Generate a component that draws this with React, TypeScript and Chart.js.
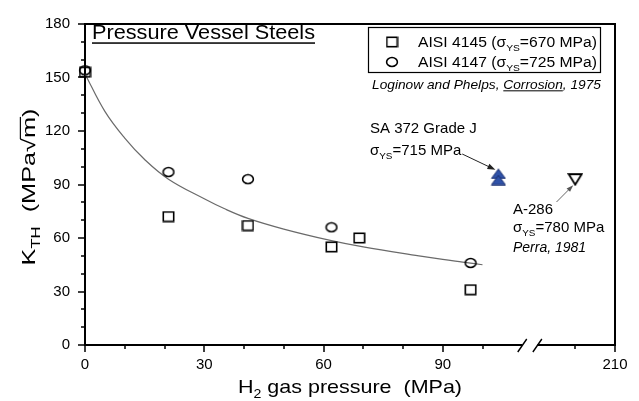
import React, { useEffect, useRef } from 'react';
import { Chart, registerables } from 'chart.js';

Chart.register(...registerables);

// ---------------- data ----------------
const aisi4145X = [0, 21, 41, 62, 69, 97];
const aisi4145Y = [153, 72, 67, 55, 60, 31];
const aisi4147X = [0, 21, 41, 62, 97];
const aisi4147Y = [154, 97, 93, 66, 46];
const sa372X = [104, 104];
const sa372Y = [96, 92.5];
const a286X = [200];
const a286Y = [93];
const fitX = [0, 5, 10, 15, 21, 30, 35, 41, 50, 62, 70, 84, 90, 95, 100];
const fitY = [152, 131, 116, 104, 93, 82, 76.5, 71, 65, 58.5, 55, 50, 48, 46.5, 45];

const xTickLabels = [0, 30, 60, 90, 210];
const xMinorTicks = [10, 20, 40, 50, 70, 80, 100, 200];
const yTickLabels = [0, 30, 60, 90, 120, 150, 180];
const yMinorTicks = [10, 20, 40, 50, 70, 80, 100, 110, 130, 140, 160, 170];

// broken x axis: values above the break are shifted left by the collapsed span
const BREAK_START = 110;
const BREAK_SKIP = 76.667;
const BREAK_GAP_END = 113.8;
const toAxis = (v: number) => (v > BREAK_START + 10 ? v - BREAK_SKIP : v);

const FONT = "'Liberation Sans', Arial, Helvetica, sans-serif";

type Run = { t: string; sub?: boolean; italic?: boolean; underline?: boolean; overline?: boolean };

function drawRuns(
  ctx: CanvasRenderingContext2D,
  runs: Run[],
  x: number,
  baseline: number,
  size: number,
  align: 'left' | 'center' | 'right' = 'left',
  targetWidth?: number,
  ulOffset = 0.14,
) {
  const font = (r: Run) => `${r.italic ? 'italic ' : ''}${r.sub ? Math.round(size * 6.6) / 10 : size}px ${FONT}`;
  const widths: number[] = [];
  let natural = 0;
  for (const r of runs) {
    ctx.font = font(r);
    const w = ctx.measureText(r.t).width;
    widths.push(w);
    natural += w;
  }
  const sx = targetWidth ? targetWidth / natural : 1;
  const total = natural * sx;
  const left = align === 'left' ? x : align === 'center' ? x - total / 2 : x - total;
  ctx.save();
  ctx.translate(left, baseline);
  ctx.scale(sx, 1);
  ctx.textAlign = 'left';
  ctx.textBaseline = 'alphabetic';
  let cx = 0;
  runs.forEach((r, i) => {
    ctx.font = font(r);
    ctx.fillText(r.t, cx, r.sub ? size * 0.27 : 0);
    if (r.underline) ctx.fillRect(cx, size * ulOffset, widths[i], Math.max(1, size * 0.075));
    if (r.overline) ctx.fillRect(cx - size * 0.04, -size * 0.8, widths[i] + size * 0.04, Math.max(1, size * 0.06));
    cx += widths[i];
  });
  ctx.restore();
  return { left, right: left + total };
}

function makeCanvas(w: number, h: number, draw: (g: CanvasRenderingContext2D) => void) {
  const c = document.createElement('canvas');
  c.width = w;
  c.height = h;
  const g = c.getContext('2d')!;
  draw(g);
  return c;
}

function buildMarkers() {
  const square = makeCanvas(13, 12, (g) => {
    g.strokeStyle = '#000';
    g.lineWidth = 1.6;
    g.strokeRect(1.3, 1.3, 10.4, 9.4);
  });
  const circle = makeCanvas(14, 12, (g) => {
    g.strokeStyle = '#000';
    g.lineWidth = 1.6;
    g.beginPath();
    g.ellipse(7, 6, 5.4, 4.5, 0, 0, Math.PI * 2);
    g.stroke();
  });
  const down = makeCanvas(16, 14, (g) => {
    g.strokeStyle = '#000';
    g.lineWidth = 1.8;
    g.beginPath();
    g.moveTo(1.5, 2);
    g.lineTo(14.5, 2);
    g.lineTo(8, 12.5);
    g.closePath();
    g.stroke();
  });
  const up = makeCanvas(16, 11, (g) => {
    g.fillStyle = '#2f52a8';
    g.strokeStyle = '#1a2f6e';
    g.lineWidth = 1;
    g.beginPath();
    g.moveTo(8, 0.8);
    g.lineTo(15, 10.2);
    g.lineTo(1, 10.2);
    g.closePath();
    g.fill();
    g.stroke();
  });
  return { square, circle, down, up };
}

function arrow(ctx: CanvasRenderingContext2D, x1: number, y1: number, x2: number, y2: number, color: string, lw: number, head: number) {
  const ang = Math.atan2(y2 - y1, x2 - x1);
  ctx.save();
  ctx.strokeStyle = color;
  ctx.fillStyle = color;
  ctx.lineWidth = lw;
  ctx.beginPath();
  ctx.moveTo(x1, y1);
  ctx.lineTo(x2 - Math.cos(ang) * head * 0.8, y2 - Math.sin(ang) * head * 0.8);
  ctx.stroke();
  ctx.beginPath();
  ctx.moveTo(x2, y2);
  ctx.lineTo(x2 - Math.cos(ang) * head + Math.sin(ang) * head * 0.35, y2 - Math.sin(ang) * head - Math.cos(ang) * head * 0.35);
  ctx.lineTo(x2 - Math.cos(ang) * head - Math.sin(ang) * head * 0.35, y2 - Math.sin(ang) * head + Math.cos(ang) * head * 0.35);
  ctx.closePath();
  ctx.fill();
  ctx.restore();
}

export default function App() {
  const ref = useRef<HTMLCanvasElement>(null);

  useEffect(() => {
    document.body.style.margin = '0';
    const canvas = ref.current!;
    const mk = buildMarkers();

    const frame = {
      id: 'frame',
      beforeDatasetsDraw(chart: any) {
        const { ctx, chartArea: a, scales } = chart;
        const x = scales.x;
        const y = scales.y;
        ctx.save();
        ctx.strokeStyle = '#000';
        ctx.lineWidth = 2;
        ctx.beginPath();
        ctx.moveTo(a.left, a.bottom);
        ctx.lineTo(a.left, a.top);
        ctx.lineTo(a.right, a.top);
        ctx.lineTo(a.right, a.bottom);
        ctx.stroke();
        const g1 = x.getPixelForValue(BREAK_START);
        const g2 = x.getPixelForValue(BREAK_GAP_END);
        ctx.beginPath();
        ctx.moveTo(a.left - 1, a.bottom);
        ctx.lineTo(g1, a.bottom);
        ctx.moveTo(g2, a.bottom);
        ctx.lineTo(a.right + 1, a.bottom);
        ctx.stroke();
        ctx.lineWidth = 1.4;
        ctx.beginPath();
        for (const g of [g1, g2]) {
          ctx.moveTo(g - 4.5, a.bottom + 7);
          ctx.lineTo(g + 4.5, a.bottom - 6);
        }
        ctx.stroke();
        // ticks
        ctx.lineWidth = 1.5;
        ctx.beginPath();
        for (const v of yTickLabels) {
          const p = Math.round(y.getPixelForValue(v));
          ctx.moveTo(a.left - 7, p);
          ctx.lineTo(a.left, p);
        }
        for (const v of yMinorTicks) {
          const p = Math.round(y.getPixelForValue(v));
          ctx.moveTo(a.left - 4, p);
          ctx.lineTo(a.left, p);
        }
        for (const v of xTickLabels) {
          const p = Math.round(x.getPixelForValue(toAxis(v)));
          ctx.moveTo(p, a.bottom);
          ctx.lineTo(p, a.bottom + 7);
        }
        for (const v of xMinorTicks) {
          const p = Math.round(x.getPixelForValue(toAxis(v)));
          ctx.moveTo(p, a.bottom);
          ctx.lineTo(p, a.bottom + 4);
        }
        ctx.stroke();
        ctx.restore();
      },
      afterDraw(chart: any) {
        const { ctx, scales } = chart;
        const x = scales.x;
        const y = scales.y;
        ctx.save();
        ctx.fillStyle = '#000';
        // title
        drawRuns(ctx, [{ t: 'Pressure Vessel Steels', underline: true }], 92, 38.5, 20, 'left', 223, 0.19);
        // legend box
        ctx.strokeStyle = '#000';
        ctx.lineWidth = 1.2;
        ctx.strokeRect(368.5, 27.5, 232, 45);
        ctx.drawImage(mk.square, 392 - 6.5, 42 - 6);
        ctx.drawImage(mk.circle, 392 - 7, 62 - 6);
        drawRuns(ctx, [{ t: 'AISI 4145 (' }, { t: 'σ' }, { t: 'YS', sub: true }, { t: '=670 MPa)' }], 418, 47, 14, 'left', 179);
        drawRuns(ctx, [{ t: 'AISI 4147 (' }, { t: 'σ' }, { t: 'YS', sub: true }, { t: '=725 MPa)' }], 418, 67, 14, 'left', 179);
        drawRuns(
          ctx,
          [{ t: 'Loginow and Phelps, ', italic: true }, { t: 'Corrosion', italic: true, underline: true }, { t: ', 1975', italic: true }],
          372,
          88.5,
          13,
          'left',
          229,
        );
        // SA 372 annotation
        drawRuns(ctx, [{ t: 'SA 372 Grade J' }], 370, 132.5, 15, 'left', undefined);
        const sa = drawRuns(ctx, [{ t: 'σ' }, { t: 'YS', sub: true }, { t: '=715 MPa' }], 370, 154.5, 15, 'left', undefined);
        const tx = x.getPixelForValue(toAxis(sa372X[0]));
        const ty = y.getPixelForValue(sa372Y[0]);
        arrow(ctx, sa.right + 1, 154, tx - 3, ty - 4, '#222', 1, 8);
        // A-286 annotation
        drawRuns(ctx, [{ t: 'A-286' }], 513, 213.5, 15);
        drawRuns(ctx, [{ t: 'σ' }, { t: 'YS', sub: true }, { t: '=780 MPa' }], 513, 232, 15);
        drawRuns(ctx, [{ t: 'Perra, 1981', italic: true }], 513, 252, 14);
        const ax = x.getPixelForValue(toAxis(a286X[0]));
        const ay = y.getPixelForValue(a286Y[0]);
        arrow(ctx, 556.5, 202, ax - 2, ay + 6, '#555', 0.9, 7);
        // axis titles
        drawRuns(ctx, [{ t: 'H' }, { t: '2', sub: true }, { t: ' gas pressure  (MPa)' }], 350, 393, 19, 'center', 224);
        ctx.save();
        ctx.translate(35, 187);
        ctx.rotate(-Math.PI / 2);
        drawRuns(
          ctx,
          [{ t: 'K' }, { t: 'TH', sub: true }, { t: '  (MPa' }, { t: '√' }, { t: 'm', overline: true }, { t: ')' }],
          0,
          0,
          19,
          'center',
          157,
        );
        ctx.restore();
        ctx.restore();
      },
    };

    const pts = (xs: number[], ys: number[]) => xs.map((v, i) => ({ x: toAxis(v), y: ys[i] }));

    const chart = new Chart(canvas, {
      type: 'scatter',
      data: {
        datasets: [
          { label: 'AISI 4145 (σYS=670 MPa)', data: pts(aisi4145X, aisi4145Y), pointStyle: mk.square as any, pointRadius: 6 },
          { label: 'AISI 4147 (σYS=725 MPa)', data: pts(aisi4147X, aisi4147Y), pointStyle: mk.circle as any, pointRadius: 6 },
          { label: 'SA 372 Grade J', data: pts(sa372X, sa372Y), pointStyle: mk.up as any, pointRadius: 6 },
          { label: 'A-286', data: pts(a286X, a286Y), pointStyle: mk.down as any, pointRadius: 6 },
          {
            label: 'fit',
            data: pts(fitX, fitY),
            showLine: true,
            pointRadius: 0,
            borderColor: '#6a6a6a',
            borderWidth: 1.2,
            tension: 0.4,
          } as any,
        ],
      },
      options: {
        responsive: false,
        animation: false,
        events: [],
        clip: false as any,
        layout: { padding: { top: 20, right: 24, left: 0, bottom: 0 } },
        plugins: { legend: { display: false }, tooltip: { enabled: false }, title: { display: false } },
        scales: {
          x: {
            type: 'linear',
            min: 0,
            max: toAxis(210),
            grid: { display: false, drawTicks: false },
            border: { display: false },
            afterFit: (s: any) => {
              s.height = 56;
            },
            afterBuildTicks: (s: any) => {
              s.ticks = xTickLabels.map((v) => ({ value: toAxis(v) }));
            },
            ticks: {
              autoSkip: false,
              maxRotation: 0,
              padding: 11,
              color: '#000',
              font: { family: FONT, size: 15 },
              callback: (val: any) => {
                const i = xTickLabels.findIndex((v) => Math.abs(toAxis(v) - Number(val)) < 0.01);
                return i >= 0 ? String(xTickLabels[i]) : '';
              },
            },
          },
          y: {
            type: 'linear',
            min: 0,
            max: 180,
            grid: { display: false, drawTicks: false },
            border: { display: false },
            afterFit: (s: any) => {
              s.width = 85;
            },
            afterBuildTicks: (s: any) => {
              s.ticks = yTickLabels.map((v) => ({ value: v }));
            },
            ticks: {
              padding: 15,
              color: '#000',
              font: { family: FONT, size: 15 },
            },
          },
        },
      },
      plugins: [frame],
    });

    return () => chart.destroy();
  }, []);

  return <canvas ref={ref} width={639} height={401} style={{ display: 'block', width: 639, height: 401 }} />;
}
